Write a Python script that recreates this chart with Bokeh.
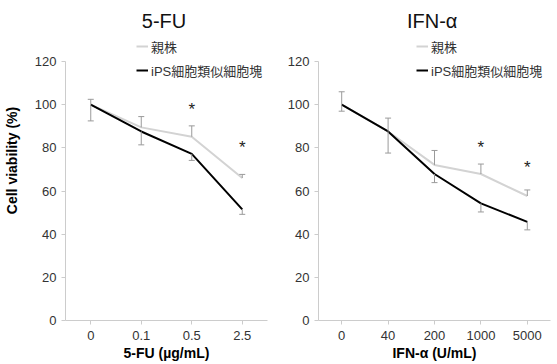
from bokeh.plotting import figure
from bokeh.layouts import row
from bokeh.models import (ColumnDataSource, FixedTicker, Range1d, Legend, LegendItem, Label)
from bokeh.core.properties import value
from bokeh.embed import file_html
from bokeh.resources import INLINE

# ---- data ----
fu_doses = ["0", "0.1", "0.5", "2.5"]
fu_parent = [100, 89.5, 85.2, 66.0]
fu_parent_err = [2.5, 5.0, 5.0, 1.7]
fu_ips = [100, 87.6, 77.2, 51.5]
fu_ips_err = [7.5, 6.2, 3.0, 2.3]
fu_sig_doses = ["0.5", "2.5"]
fu_sig_y = [98.0, 80.0]

ifn_doses = ["0", "40", "200", "1000", "5000"]
ifn_parent = [100, 87.6, 72.1, 67.9, 57.7]
ifn_parent_err = [6.0, 6.2, 6.7, 4.6, 2.8]
ifn_ips = [100, 87.6, 67.9, 54.3, 45.7]
ifn_ips_err = [3.0, 10.0, 4.0, 4.0, 3.7]
ifn_sig_doses = ["1000", "5000"]
ifn_sig_y = [80.0, 71.0]

y_ticks = [0, 20, 40, 60, 80, 100, 120]
series_names = ["親株", "iPS細胞類似細胞塊"]

GRAY = "#d3d3d3"
AXIS = "#cccccc"
ERR = "#9a9a9a"
TXT = "#333333"
FONT = "Liberation Sans"
CJK = "Liberation Sans, Noto Sans CJK JP"


def panel(title, xlabel, doses, parent, perr, ips, ierr, sig_x, sig_y,
          width, bl, br, ylabel, leg_x):
    p = figure(x_range=doses, y_range=Range1d(0, 148.3), width=width, height=364,
               output_backend="svg", toolbar_location=None,
               min_border_left=bl, min_border_right=br, min_border_top=0,
               min_border_bottom=44)
    p.outline_line_color = None
    p.xgrid.grid_line_color = None
    p.ygrid.grid_line_color = None
    p.x_range.range_padding = 0

    src = ColumnDataSource(dict(
        x=doses, parent=parent, ips=ips,
        p_top=[v + e for v, e in zip(parent, perr)],
        i_bot=[v - e for v, e in zip(ips, ierr)],
    ))
    r1 = p.line("x", "parent", source=src, line_color=GRAY, line_width=2)
    r2 = p.line("x", "ips", source=src, line_color="#000000", line_width=2)
    # error bars (parent up, iPS down)
    p.segment("x", "parent", "x", "p_top", source=src, line_color=ERR, line_width=1)
    p.segment("x", "ips", "x", "i_bot", source=src, line_color=ERR, line_width=1)
    p.scatter("x", "p_top", source=src, marker="dash", size=6, line_color=ERR, line_width=1)
    p.scatter("x", "i_bot", source=src, marker="dash", size=6, line_color=ERR, line_width=1)

    # significance asterisks
    p.text(x=sig_x, y=sig_y, text=["*"] * len(sig_x), text_font=value(FONT),
           text_font_size="17px", text_align="center", text_baseline="middle",
           text_color="#222222")

    # title
    p.add_layout(Label(x=len(doses) / 2 - 0.05, y=139, text=title, text_font=FONT,
                       text_font_size="20px", text_align="center",
                       text_baseline="middle", text_color="#111111"))

    # axes
    p.yaxis.ticker = FixedTicker(ticks=y_ticks)
    p.yaxis.bounds = (0, 120)
    for ax in (p.xaxis, p.yaxis):
        ax.axis_line_color = AXIS
        ax.major_tick_line_color = AXIS
        ax.minor_tick_line_color = None
        ax.major_tick_in = 0
        ax.major_tick_out = 4
        ax.major_label_text_font = FONT
        ax.major_label_text_font_size = "13px"
        ax.major_label_text_color = TXT
        ax.axis_label_text_font = FONT
        ax.axis_label_text_font_size = "14px"
        ax.axis_label_text_font_style = "bold"
        ax.axis_label_text_color = "#000000"
    p.xaxis.major_label_standoff = 6
    p.xaxis.axis_label_standoff = 2
    p.yaxis.major_label_standoff = 5
    p.yaxis.axis_label_standoff = 12
    p.xaxis.axis_label = xlabel
    if ylabel:
        p.yaxis.axis_label = ylabel

    legend = Legend(items=[LegendItem(label=series_names[0], renderers=[r1]),
                           LegendItem(label=series_names[1], renderers=[r2])],
                    location=(leg_x, 240), padding=0, margin=0, spacing=4,
                    glyph_width=12, glyph_height=20, label_height=20,
                    label_standoff=3, label_text_font=CJK,
                    label_text_font_size="13px", label_text_color=TXT,
                    background_fill_alpha=0, border_line_alpha=0)
    p.add_layout(legend, "center")
    return p


left = panel("5-FU", "5-FU (µg/mL)", fu_doses, fu_parent, fu_parent_err, fu_ips,
             fu_ips_err, fu_sig_doses, fu_sig_y, 277, 63, 10,
             "Cell viability (%)", 71)
right = panel("IFN-α", "IFN-α (U/mL)", ifn_doses, ifn_parent, ifn_parent_err, ifn_ips,
              ifn_ips_err, ifn_sig_doses, ifn_sig_y, 280, 41, 7, None, 98)

layout = row(left, right)
open("out.html", "w").write(file_html(layout, INLINE))
